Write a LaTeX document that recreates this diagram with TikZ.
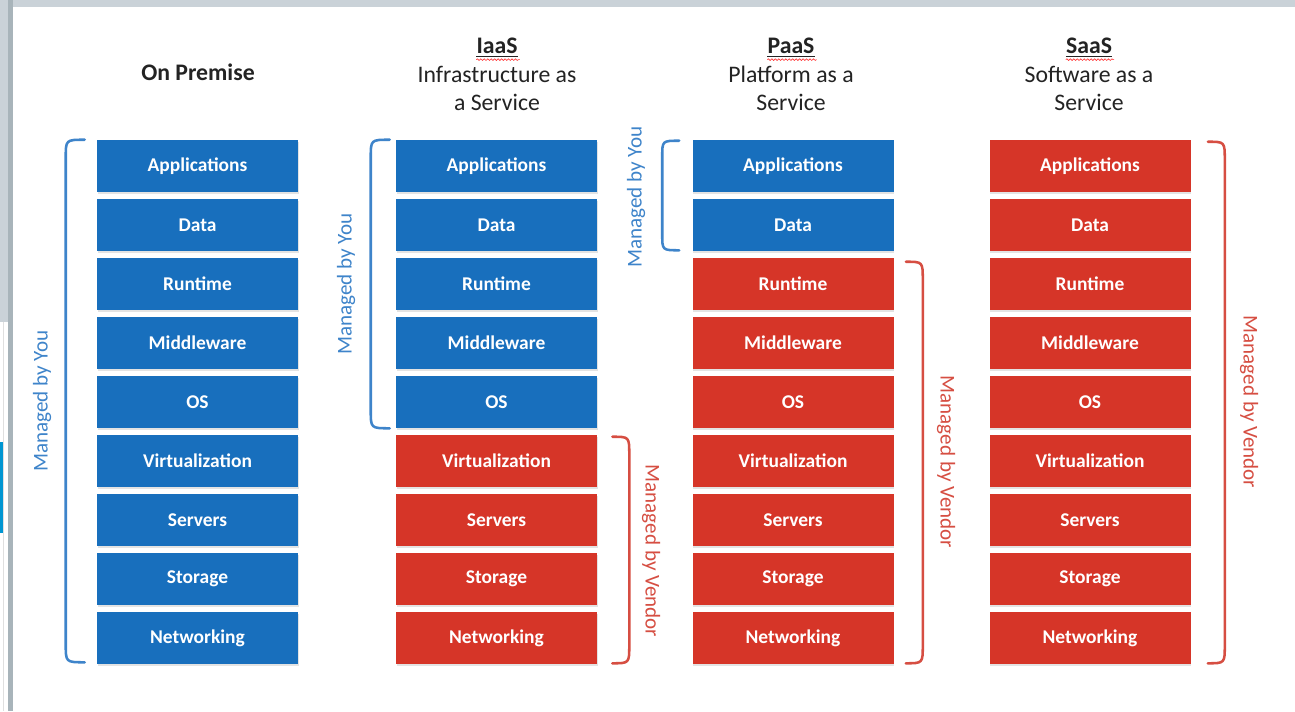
\documentclass[tikz,border=0pt]{standalone}
\usepackage{fontspec}
\setmainfont{Carlito}
\usetikzlibrary{calc,shadows,decorations.pathmorphing}
\definecolor{boxblue}{RGB}{24,111,189}
\definecolor{boxred}{RGB}{214,53,40}
\definecolor{braceblue}{RGB}{62,132,202}
\definecolor{bracered}{RGB}{214,78,66}
\definecolor{titlegray}{RGB}{35,35,35}
\definecolor{framegray}{RGB}{202,210,216}
\definecolor{framebar}{RGB}{168,180,186}
\definecolor{sidebar}{RGB}{0,150,210}
\tikzset{
  layer/.style={minimum width=201*0.75pt, minimum height=52*0.75pt, inner sep=0pt,
    text=white, font=\bfseries\fontsize{14.6}{16}\selectfont,
    drop shadow={opacity=0.22, shadow xshift=0.6pt, shadow yshift=-1.2pt}},
  bluebox/.style={layer, fill=boxblue},
  redbox/.style={layer, fill=boxred},
  title/.style={text=titlegray, font=\fontsize{17.8}{20}\selectfont, inner sep=0pt},
  btitle/.style={title, font=\bfseries\fontsize{17.8}{20}\selectfont},
  brace/.style={line width=1.9pt, line cap=round},
  bracelbl/.style={font=\fontsize{15.8}{18}\selectfont, inner sep=0pt},
}
\begin{document}
\begin{tikzpicture}[x=0.75pt,y=-0.75pt]
% background and screenshot frame
\fill[white] (0,0) rectangle (1295,711);
\useasboundingbox (0,0) rectangle (1295,711);
\fill[framegray] (0,0) rectangle (1295,7);
\fill[framegray] (0,0) rectangle (8,322);
\fill[framebar] (8,0) rectangle (13,711);
\fill[sidebar] (0,442) rectangle (4,533);
\draw[gray!25, line width=0.6pt] (3,322) -- (3,711);

% layer boxes
\def\labels{{"Applications","Data","Runtime","Middleware","OS","Virtualization","Servers","Storage","Networking"}}
\foreach \c/\cx/\nb in {1/197.5/9, 2/496.5/5, 3/793/2, 4/1090/0}{
  \foreach \r in {1,...,9}{
    \pgfmathsetmacro{\cy}{166+(\r-1)*59}
    \pgfmathparse{\labels[\r-1]}\let\txt\pgfmathresult
    \ifnum\r>\nb
      \node[redbox] (c\c r\r) at (\cx,\cy) {\txt};
    \else
      \node[bluebox] (c\c r\r) at (\cx,\cy) {\txt};
    \fi
  }
}

% titles
\node[btitle] (t1) at (198,72) {On Premise};
\node[btitle] (t2a) at (497,46) {IaaS};
\node[title] (t2b) at (497,74) {Infrastructure as};
\node[title] (t2c) at (497,102) {a Service};
\node[btitle] (t3a) at (791,46) {PaaS};
\node[title] (t3b) at (791,74) {Platform as a};
\node[title] (t3c) at (791,102) {Service};
\node[btitle] (t4a) at (1089,46) {SaaS};
\node[title] (t4b) at (1089,74) {Software as a};
\node[title] (t4c) at (1089,102) {Service};
\foreach \t in {t2a,t3a,t4a}{
  \draw[titlegray, line width=0.7pt] ($(\t.south west)+(0,2.5)$) -- ($(\t.south east)+(0,2.5)$);
  \draw[red!80, line width=0.5pt, decorate, decoration={snake, amplitude=0.6pt, segment length=2.6pt}]
    ($(\t.south west)+(0,5.5)$) -- ($(\t.south east)+(2,5.5)$);
}

% braces: left (blue) and right (red)
% col1 left
\coordinate (b1t) at ($(c1r1.north west)+(-12,0)$);
\coordinate (b1b) at ($(c1r9.south west)+(-12,-2)$);
\draw[brace, braceblue] (b1t) .. controls ($(b1t)+(-19,0)$) .. ($(b1t)+(-19,18)$)
  -- ($(b1b)+(-19,-18)$) .. controls ($(b1b)+(-19,0)$) .. (b1b);
\node[bracelbl, text=braceblue, rotate=90] (l1) at (42,401) {Managed by You};
% col2 left
\coordinate (b2t) at ($(c2r1.north west)+(-6,0)$);
\coordinate (b2b) at ($(c2r5.south west)+(-6,0)$);
\draw[brace, braceblue] (b2t) .. controls ($(b2t)+(-19,0)$) .. ($(b2t)+(-19,18)$)
  -- ($(b2b)+(-19,-18)$) .. controls ($(b2b)+(-19,0)$) .. (b2b);
\node[bracelbl, text=braceblue, rotate=90] (l2) at (346,284) {Managed by You};
% col2 right
\coordinate (b3t) at ($(c2r6.north east)+(15,2)$);
\coordinate (b3b) at ($(c2r9.south east)+(15,-1)$);
\draw[brace, bracered] (b3t) .. controls ($(b3t)+(17,0)$) .. ($(b3t)+(17,18)$)
  -- ($(b3b)+(17,-18)$) .. controls ($(b3b)+(17,0)$) .. (b3b);
\node[bracelbl, text=bracered, rotate=-90] (l3) at (651,551) {Managed by Vendor};
% col3 left
\coordinate (b4t) at ($(c3r1.north west)+(-13,1)$);
\coordinate (b4b) at ($(c3r2.south west)+(-13,-1)$);
\draw[brace, braceblue] (b4t) .. controls ($(b4t)+(-17,0)$) .. ($(b4t)+(-17,16)$)
  -- ($(b4b)+(-17,-16)$) .. controls ($(b4b)+(-17,0)$) .. (b4b);
\node[bracelbl, text=braceblue, rotate=90] (l4) at (636,197) {Managed by You};
% col3 right
\coordinate (b5t) at ($(c3r3.north east)+(12,4)$);
\coordinate (b5b) at ($(c3r9.south east)+(12,-1)$);
\draw[brace, bracered] (b5t) .. controls ($(b5t)+(17,0)$) .. ($(b5t)+(17,18)$)
  -- ($(b5b)+(17,-18)$) .. controls ($(b5b)+(17,0)$) .. (b5b);
\node[bracelbl, text=bracered, rotate=-90] (l5) at (946,462) {Managed by Vendor};
% col4 right
\coordinate (b6t) at ($(c4r1.north east)+(17,2)$);
\coordinate (b6b) at ($(c4r9.south east)+(17,-1)$);
\draw[brace, bracered] (b6t) .. controls ($(b6t)+(17,0)$) .. ($(b6t)+(17,18)$)
  -- ($(b6b)+(17,-18)$) .. controls ($(b6b)+(17,0)$) .. (b6b);
\node[bracelbl, text=bracered, rotate=-90] (l6) at (1249,402) {Managed by Vendor};
\end{tikzpicture}
\end{document}
